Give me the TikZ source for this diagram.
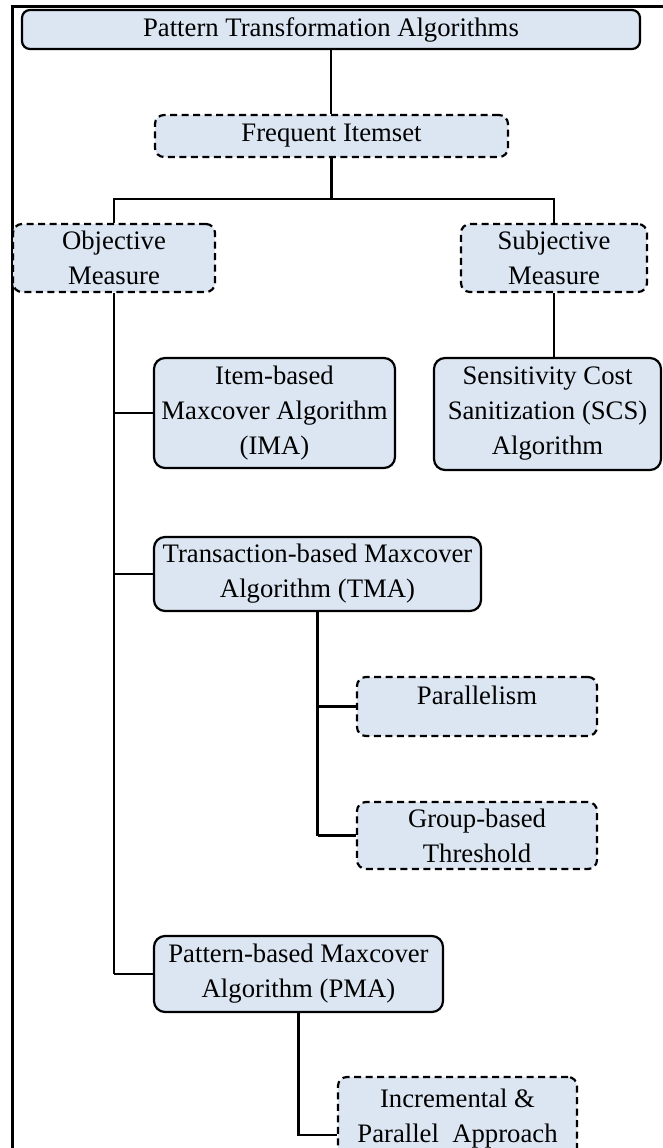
\documentclass[tikz,border=0pt]{standalone}
\usepackage{fontspec}
\setmainfont{Liberation Serif}
\definecolor{boxfill}{HTML}{DCE6F2}
\tikzset{
  basebox/.style={draw=black, fill=boxfill, line width=2.2pt, inner sep=0pt, align=center,
    font=\fontsize{26.7pt}{35pt}\selectfont},
  solidbox/.style={basebox, rounded corners=11pt},
  dashbox/.style={basebox, rounded corners=9pt, dash pattern=on 7pt off 4.5pt},
  conn/.style={line width=2.5pt},
  frameline/.style={line width=3pt},
}
\begin{document}
\begin{tikzpicture}[x=1pt, y=-1pt]
\clip (0,0) rectangle (663,1148);
\useasboundingbox (0,0) rectangle (663,1148);
\fill[white] (0,0) rectangle (663,1148);

% outer frame
\coordinate (fbl) at (12,1150);
\coordinate (ftl) at (12,7);
\coordinate (ftr) at (665,7);
\draw[frameline] (fbl) -- (ftl) -- (ftr);

% nodes
\node[solidbox, minimum width=618pt, minimum height=39pt, rounded corners=8pt] (top) at (331,29.5) {Pattern Transformation Algorithms};
\node[dashbox, minimum width=353pt, minimum height=42pt] (freq) at (331.5,136) {Frequent Itemset};
\node[dashbox, minimum width=202pt, minimum height=68pt] (obj) at (114,258) {Objective\\Measure};
\node[dashbox, minimum width=186pt, minimum height=68pt] (subj) at (554,258) {Subjective\\Measure};
\node[solidbox, minimum width=241pt, minimum height=110pt] (ima) at (274.5,413) {Item-based\\Maxcover Algorithm\\(IMA)};
\node[solidbox, minimum width=227pt, minimum height=112pt] (scs) at (547.5,414) {Sensitivity Cost\\Sanitization (SCS)\\Algorithm};
\node[solidbox, minimum width=327pt, minimum height=74pt] (tma) at (317.5,574) {Transaction-based Maxcover\\Algorithm (TMA)};
\node[dashbox, minimum width=240pt, minimum height=59pt, text height=18.6pt, text depth=22pt] (par) at (477,706.5) {Parallelism};
\node[dashbox, minimum width=240pt, minimum height=67pt] (grp) at (477,835.5) {Group-based\\Threshold};
\node[solidbox, minimum width=289pt, minimum height=76pt] (pma) at (298.5,974) {Pattern-based Maxcover\\Algorithm (PMA)};
\node[dashbox, minimum width=239pt, minimum height=84pt] (inc) at (457.5,1119) {Incremental \&\\Parallel~ Approach};

% connectors
\coordinate (fj) at (331.5,199);
\draw[conn] (top.south) -- (top.south |- freq.north);
\draw[conn] (freq.south) -- (fj);
\draw[conn] (obj.north) -- (obj.north |- fj) -- (subj.north |- fj) -- (subj.north);
\draw[conn] (obj.south) -- (obj.south |- pma.west);
\draw[conn] (obj.south |- ima.west) -- (ima.west);
\draw[conn] (obj.south |- tma.west) -- (tma.west);
\draw[conn] (obj.south |- pma.west) -- (pma.west);
\draw[conn] (subj.south) -- (subj.south |- scs.north);
\draw[conn] (tma.south) -- (tma.south |- grp.west);
\draw[conn] (tma.south |- par.west) -- (par.west);
\draw[conn] (tma.south |- grp.west) -- (grp.west);
\coordinate (incin) at ([yshift=-16pt]inc.west);
\draw[conn] (pma.south) -- (pma.south |- incin) -- (incin);
\end{tikzpicture}
\end{document}
